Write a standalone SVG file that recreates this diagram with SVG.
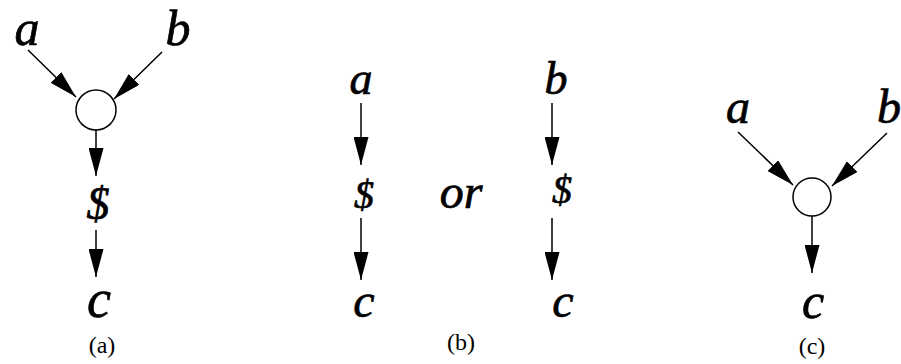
<svg xmlns="http://www.w3.org/2000/svg" width="901" height="364" viewBox="0 0 901 364">
<style>
.v{font-family:"Liberation Serif","Times New Roman",serif;font-style:italic;text-anchor:middle;fill:#000;stroke:#000;stroke-width:0.7}
.l{font-family:"Liberation Serif","Times New Roman",serif;font-size:24px;text-anchor:middle;fill:#000}
.e{stroke:#000;stroke-width:1.5;fill:none;marker-end:url(#ah)}
.n{fill:#fff;stroke:#000;stroke-width:1.5}
</style>
<defs>
<marker id="ah" viewBox="0 0 28 15" refX="28" refY="7.5" markerWidth="28" markerHeight="15" markerUnits="userSpaceOnUse" orient="auto">
<path d="M0,0 L28,7.5 L0,15 z" fill="#000"/>
</marker>
</defs>
<rect width="901" height="364" fill="#fff"/>
<g id="connectors">
<line class="e" x1="28" y1="50" x2="76" y2="97"/>
<line class="e" x1="162" y1="52" x2="114" y2="99"/>
<line class="e" x1="96" y1="130" x2="96" y2="176"/>
<line class="e" x1="96" y1="230" x2="96" y2="277"/>
<line class="e" x1="361" y1="103" x2="361" y2="165"/>
<line class="e" x1="361" y1="218" x2="361" y2="280"/>
<line class="e" x1="552" y1="103" x2="552" y2="165"/>
<line class="e" x1="552" y1="218" x2="552" y2="280"/>
<line class="e" x1="738" y1="132" x2="793" y2="185"/>
<line class="e" x1="887" y1="133" x2="832" y2="186"/>
<line class="e" x1="812" y1="216" x2="812" y2="273"/>
</g>
<g id="a-a"><text class="v" x="27" y="45" font-size="50">a</text></g>
<g id="a-b"><text class="v" x="178" y="45" font-size="50">b</text></g>
<g id="a-join"><circle class="n" cx="96" cy="110" r="20"/></g>
<g id="a-dollar"><text class="v" x="98" y="219" font-size="46">$</text></g>
<g id="a-c"><text class="v" x="99" y="317" font-size="54">c</text></g>
<g id="b-a"><text class="v" x="361" y="94" font-size="46">a</text></g>
<g id="b-dollar1"><text class="v" x="364" y="208" font-size="40">$</text></g>
<g id="b-c1"><text class="v" x="364" y="317" font-size="48">c</text></g>
<g id="b-or"><text class="v" x="461" y="208" font-size="48">or</text></g>
<g id="b-b"><text class="v" x="556" y="94" font-size="46">b</text></g>
<g id="b-dollar2"><text class="v" x="562" y="203" font-size="40">$</text></g>
<g id="b-c2"><text class="v" x="563" y="317" font-size="48">c</text></g>
<g id="c-a"><text class="v" x="738" y="123" font-size="48">a</text></g>
<g id="c-b"><text class="v" x="889" y="123" font-size="48">b</text></g>
<g id="c-join"><circle class="n" cx="812" cy="197" r="19"/></g>
<g id="c-c"><text class="v" x="813" y="318" font-size="50">c</text></g>
<g id="labels">
<text class="l" x="102" y="353">(a)</text>
<text class="l" x="461" y="350">(b)</text>
<text class="l" x="812" y="354">(c)</text>
</g>
</svg>
